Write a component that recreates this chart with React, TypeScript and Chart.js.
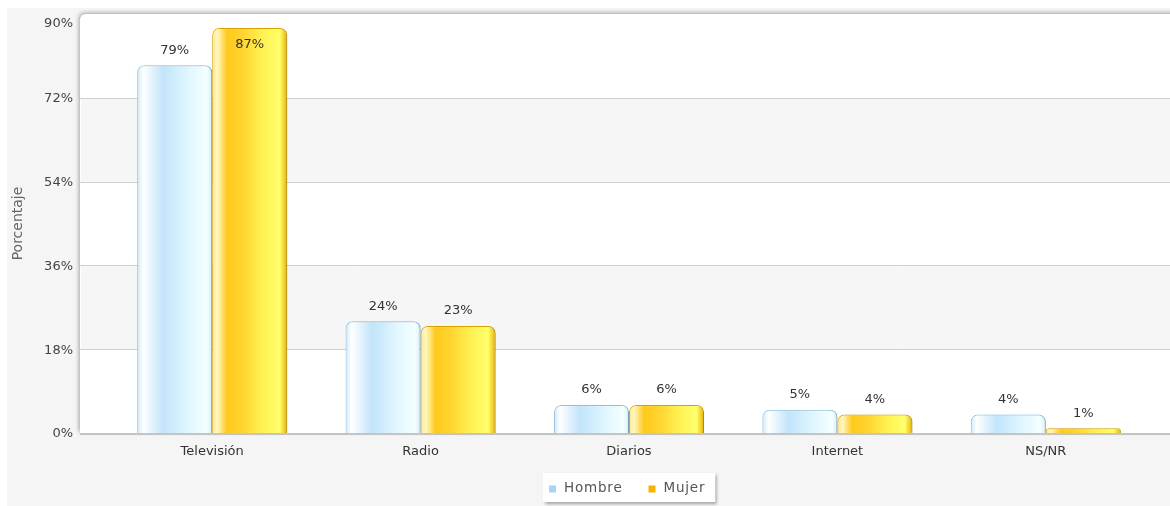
import React, { useEffect, useRef } from "react";
import { Chart, registerables } from "chart.js";

Chart.register(...registerables);

const categories = ["Televisión", "Radio", "Diarios", "Internet", "NS/NR"];
const hombre = [79, 24, 6, 5, 4];
const mujer = [87, 23, 6, 4, 1];
const seriesNames = ["Hombre", "Mujer"];
const yTicks = [0, 18, 36, 54, 72, 90];
const yTitle = "Porcentaje";

const W = 1170;
const H = 506;
const CAT_PCT = 0.72;
const FONT = "DejaVu Sans";

const hombreStops: [number, string][] = [
  [0, "#cfe8f8"],
  [0.08, "#ffffff"],
  [0.35, "#c2e4fb"],
  [0.7, "#e2f7ff"],
  [0.93, "#f4ffff"],
  [1, "#d2ecf8"],
];
const mujerStops: [number, string][] = [
  [0, "#ffe890"],
  [0.07, "#fff6c0"],
  [0.2, "#ffc91c"],
  [0.4, "#ffd430"],
  [0.65, "#fff050"],
  [0.9, "#ffff6c"],
  [1, "#eab000"],
];
const legendColors = ["#a8d4f4", "#f6b400"];

function gradFor(chart: any, dsIndex: number, dataIndex: number, stops: [number, string][], fallback: string) {
  const xs = chart.scales && chart.scales.x;
  if (!xs || !chart.chartArea) return fallback;
  const cat = (xs.width / categories.length) * CAT_PCT;
  const center = xs.getPixelForValue(dataIndex);
  const left = center - cat / 2 + (dsIndex * cat) / 2;
  const g = chart.ctx.createLinearGradient(left, 0, left + cat / 2, 0);
  stops.forEach(([o, c]) => g.addColorStop(o, c));
  return g;
}

const decorPlugin = {
  id: "decor",
  beforeDraw(chart: any) {
    const { ctx, scales } = chart;
    const y = scales.y;
    const top = y.getPixelForValue(yTicks[yTicks.length - 1]);
    const bottom = y.getPixelForValue(0);
    const px = 80;
    ctx.save();
    ctx.fillStyle = "#ffffff";
    ctx.fillRect(0, 0, W, H);
    ctx.fillStyle = "#f5f5f5";
    ctx.fillRect(7, 8, W - 7, H - 8);

    // plot panel with shadow
    ctx.save();
    ctx.shadowColor = "rgba(0,0,0,0.35)";
    ctx.shadowBlur = 4;
    ctx.shadowOffsetX = -1;
    ctx.shadowOffsetY = -1;
    const r = 6;
    ctx.beginPath();
    ctx.moveTo(px, bottom);
    ctx.lineTo(px, top + r);
    ctx.quadraticCurveTo(px, top, px + r, top);
    ctx.lineTo(W + 20, top);
    ctx.lineTo(W + 20, bottom);
    ctx.closePath();
    ctx.fillStyle = "#ffffff";
    ctx.fill();
    ctx.restore();

    // alternating bands
    for (let k = 0; k < yTicks.length - 1; k++) {
      if (k % 2 === 1) {
        const y1 = y.getPixelForValue(yTicks[k]);
        const y2 = y.getPixelForValue(yTicks[k + 1]);
        ctx.fillStyle = "#f6f6f6";
        ctx.fillRect(px + 1, y2, W - px, y1 - y2);
      }
    }
    // grid lines
    ctx.strokeStyle = "#cfcfcf";
    ctx.lineWidth = 1;
    for (let k = 1; k < yTicks.length - 1; k++) {
      const yy = Math.round(y.getPixelForValue(yTicks[k])) + 0.5;
      ctx.beginPath();
      ctx.moveTo(px, yy);
      ctx.lineTo(W, yy);
      ctx.stroke();
    }
    // axis line
    ctx.strokeStyle = "#c4c4c4";
    ctx.lineWidth = 2;
    ctx.beginPath();
    ctx.moveTo(px, Math.round(bottom) + 1);
    ctx.lineTo(W, Math.round(bottom) + 1);
    ctx.stroke();

    // y tick labels
    ctx.fillStyle = "#444444";
    ctx.font = `13px "${FONT}"`;
    ctx.textAlign = "right";
    ctx.textBaseline = "middle";
    yTicks.forEach((t, i) => {
      let yy = y.getPixelForValue(t) + 1;
      if (i === yTicks.length - 1) yy += 9;
      ctx.fillText(`${t}%`, 73, yy);
    });
    ctx.restore();
  },
  beforeDatasetsDraw(chart: any) {
    const ctx = chart.ctx;
    ctx.save();
    ctx.shadowColor = "rgba(0,0,0,0.22)";
    ctx.shadowBlur = 3;
    ctx.shadowOffsetX = 2;
    ctx.shadowOffsetY = 1;
  },
  afterDatasetsDraw(chart: any) {
    const ctx = chart.ctx;
    ctx.restore();
    ctx.save();
    ctx.fillStyle = "#333333";
    ctx.font = `13px "${FONT}"`;
    ctx.textAlign = "center";
    ctx.textBaseline = "middle";
    chart.data.datasets.forEach((ds: any, di: number) => {
      const meta = chart.getDatasetMeta(di);
      meta.data.forEach((el: any, i: number) => {
        let yy = el.y - 15;
        if (yy - 8 < chart.chartArea.top) yy = el.y + 17;
        ctx.fillText(`${ds.data[i]}%`, el.x, yy);
      });
    });
    ctx.restore();
  },
  afterDraw(chart: any) {
    const { ctx, chartArea } = chart;
    ctx.save();
    ctx.font = `13.5px "${FONT}"`;
    (ctx as any).letterSpacing = "0.8px";
    const sq = 7;
    const gap = 8;
    const itemGap = 26;
    const padX = 6;
    const names = chart.data.datasets.map((d: any) => d.label);
    const widths = names.map((n: string) => ctx.measureText(n).width);
    let total = padX * 2 + 4;
    widths.forEach((w: number, i: number) => {
      total += sq + gap + w + (i < widths.length - 1 ? itemGap : 0);
    });
    const cx = (chartArea.left + chartArea.right) / 2;
    const bx = Math.round(cx - total / 2);
    const by = 473;
    const bh = 29;
    ctx.save();
    ctx.shadowColor = "rgba(0,0,0,0.35)";
    ctx.shadowBlur = 3;
    ctx.shadowOffsetX = 2;
    ctx.shadowOffsetY = 2;
    ctx.fillStyle = "#ffffff";
    ctx.fillRect(bx, by, total, bh);
    ctx.restore();
    let x = bx + padX;
    const my = by + bh / 2 + 1;
    names.forEach((n: string, i: number) => {
      ctx.fillStyle = legendColors[i];
      ctx.fillRect(x, my - 3, sq, sq);
      x += sq + gap;
      ctx.fillStyle = "#555555";
      ctx.textAlign = "left";
      ctx.textBaseline = "middle";
      ctx.fillText(n, x, my);
      x += widths[i] + itemGap;
    });
    ctx.restore();
  },
};

export default function App() {
  const canvasRef = useRef<HTMLCanvasElement | null>(null);

  useEffect(() => {
    if (!canvasRef.current) return;
    const chart = new Chart(canvasRef.current, {
      type: "bar",
      data: {
        labels: categories,
        datasets: [
          {
            label: seriesNames[0],
            data: hombre,
            backgroundColor: (c: any) => gradFor(c.chart, 0, c.dataIndex ?? 0, hombreStops, "#c8e8fa"),
            borderColor: "#94c6e4",
            borderWidth: 1,
            borderRadius: { topLeft: 7, topRight: 7, bottomLeft: 0, bottomRight: 0 },
            borderSkipped: "bottom",
            categoryPercentage: CAT_PCT,
            barPercentage: 1,
          },
          {
            label: seriesNames[1],
            data: mujer,
            backgroundColor: (c: any) => gradFor(c.chart, 1, c.dataIndex ?? 0, mujerStops, "#ffd020"),
            borderColor: "#e0a600",
            borderWidth: 1,
            borderRadius: { topLeft: 7, topRight: 7, bottomLeft: 0, bottomRight: 0 },
            borderSkipped: "bottom",
            categoryPercentage: CAT_PCT,
            barPercentage: 1,
          },
        ],
      },
      options: {
        animation: false,
        responsive: true,
        maintainAspectRatio: false,
        layout: { padding: { top: 14, right: 20, left: 0, bottom: 0 } },
        plugins: {
          legend: { display: false },
          tooltip: { enabled: false },
        },
        scales: {
          x: {
            type: "category",
            grid: { display: false, drawTicks: false, tickLength: 0 },
            border: { display: false },
            ticks: { color: "#333333", font: { family: FONT, size: 13 }, padding: 11, maxRotation: 0 },
            afterFit: (s: any) => {
              s.height = 73;
            },
          },
          y: {
            min: 0,
            max: 90,
            ticks: { display: false, stepSize: 18 },
            grid: { display: false, drawTicks: false, tickLength: 0 },
            border: { display: false },
            title: {
              display: true,
              text: yTitle,
              color: "#666666",
              font: { family: FONT, size: 14 },
              padding: { top: 10, bottom: 0 },
            },
            afterFit: (s: any) => {
              s.width = 108;
            },
          },
        },
      },
      plugins: [decorPlugin],
    });
    return () => chart.destroy();
  }, []);

  return (
    <div style={{ position: "absolute", left: 0, top: 0, width: W, height: H }}>
      <canvas ref={canvasRef} />
    </div>
  );
}
